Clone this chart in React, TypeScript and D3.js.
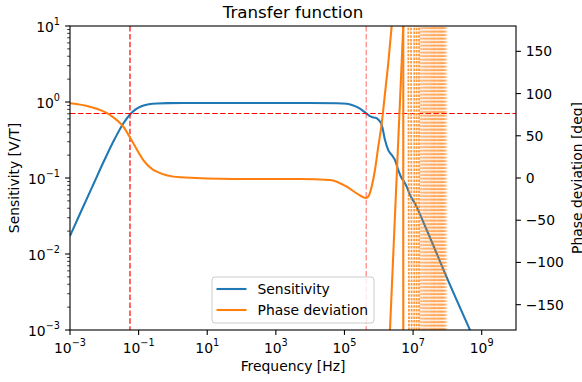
import { useRef, useEffect } from 'react';
import * as d3 from 'd3';

const sensFreq = [
    1e-3, 2e-3, 5e-3, 1e-2, 2e-2, 3.5e-2, 5.6e-2, 8e-2, 0.12, 0.2, 0.35, 0.7, 2, 1e2, 1e4, 6e4, 1.2e5,
    2.2e5, 3.2e5, 4.3e5, 5.5e5, 6.5e5, 8e5, 9.6e5, 1.22e6, 1.52e6, 1.89e6, 2.38e6, 2.96e6, 3.7e6,
    4.66e6, 5.6e6, 6.5e6, 8.1e6, 1.14e7, 2.38e7, 1e8, 4.55e8, 1e9,
];
const sensVal = [
    0.0173, 0.0346, 0.086, 0.171, 0.326, 0.514, 0.686, 0.795, 0.879, 0.934, 0.958, 0.967, 0.97, 0.97,
    0.97, 0.965, 0.95, 0.87, 0.79, 0.71, 0.65, 0.63, 0.62, 0.59, 0.5, 0.316, 0.233, 0.201, 0.173,
    0.127, 0.099, 0.088, 0.077, 0.06, 0.046, 0.0218, 0.0047, 0.001, 0.00045,
];

// Phase deviation [deg], up to the first wrap
const phaseFreq = [
    1e-3, 3.8e-3, 1.47e-2, 3.57e-2, 7e-2, 0.137, 0.336, 1.6, 57, 5e3, 3.8e4, 1.16e5, 2.27e5, 4.3e5,
    4.94e5, 6.2e5, 7.74e5, 9.67e5, 1.22e6, 1.52e6, 1.89e6, 2.38e6,
];
const phaseDeg = [
    88.5, 84.4, 74.6, 60.8, 41.1, 21.3, 7.5, 0.8, -1.2, -1.2, -2.4, -10.3, -18.1, -23.5, -22.1,
    -10.3, 9.5, 37.1, 64.8, 100.3, 135.8, 180,
];

// Wrapped phase segments: frequency where each one leaves -180 and reaches +180
const wrapLo = [2.12e6, 5.18e6, 7.59e6, 9.1e6, 1.08e7, 1.27e7, 1.49e7];
const wrapHi = [5.18e6, 5.18e6, 7.24e6, 8.69e6, 1.08e7, 1.27e7, 1.49e7];
// Dense wraps above ~1.6e7 Hz
const denseWrapFreq = [
    1.62e7, 1.75e7, 1.9e7, 2.05e7, 2.2e7, 2.35e7, 2.5e7, 2.7e7, 2.9e7, 3.1e7, 3.3e7, 3.5e7, 3.7e7,
    3.9e7, 4.1e7, 4.3e7, 4.5e7, 4.8e7, 5.1e7, 5.4e7, 5.7e7, 6.0e7, 6.3e7, 6.6e7, 6.9e7, 7.2e7, 7.5e7,
    7.8e7, 8.1e7, 8.4e7, 8.7e7, 9.0e7, 9.3e7, 9.6e7,
];

// -3 dB markers
const cutoffFreqs = [0.056, 4.3e5];
const cutoffLevel = 0.707;

const xTickExp = [-3, -1, 1, 3, 5, 7, 9];
const yTickExp = [-3, -2, -1, 0, 1];
const phaseTicks = [-150, -100, -50, 0, 50, 100, 150];
const legendLabels = ['Sensitivity', 'Phase deviation'];

const BLUE = '#1f77b4';
const ORANGE = '#ff7f0e';
const RED = '#ff0000';
const FONT = 'DejaVu Sans, sans-serif';

function TransferFunction() {
    const svgRef = useRef<SVGSVGElement | null>(null);

    const width = 582;
    const height = 382;
    const left = 70;
    const right = 516;
    const top = 26;
    const bottom = 330;

    useEffect(() => {
        const svg = d3.select(svgRef.current);
        svg.selectAll('*').remove();

        const x = d3.scaleLog().domain([1e-3, 1e10]).range([left, right]);
        const yL = d3.scaleLog().domain([1e-3, 1e1]).range([bottom, top]);
        const yR = d3.scaleLinear().domain([-180, 180]).range([bottom, top]);

        svg.append('rect').attr('width', width).attr('height', height).attr('fill', 'white');

        const defs = svg.append('defs');
        defs.append('clipPath')
            .attr('id', 'plot-clip')
            .append('rect')
            .attr('x', left)
            .attr('y', top)
            .attr('width', right - left)
            .attr('height', bottom - top);
        // soft fill behind the dense wraps, fading out on the right
        const grad = defs.append('linearGradient').attr('id', 'dense-fade');
        grad.append('stop').attr('offset', '0%').attr('stop-color', ORANGE).attr('stop-opacity', 0.12);
        grad.append('stop').attr('offset', '70%').attr('stop-color', ORANGE).attr('stop-opacity', 0.16);
        grad.append('stop').attr('offset', '100%').attr('stop-color', ORANGE).attr('stop-opacity', 0.02);

        const plot = svg.append('g').attr('clip-path', 'url(#plot-clip)');

        // Sensitivity
        const sensLine = d3
            .line<number>()
            .x((d, i) => x(sensFreq[i]))
            .y((d) => yL(d))
            .curve(d3.curveMonotoneX);
        plot.append('path')
            .attr('d', sensLine(sensVal))
            .attr('fill', 'none')
            .attr('stroke', BLUE)
            .attr('stroke-width', 2.08);

        // Cutoff markers
        const hy = Math.round(yL(cutoffLevel)) + 0.5;
        plot.append('path')
            .attr('d', `M${left},${hy}H${right}`)
            .style('stroke', RED)
            .style('stroke-width', 1.2)
            .style('stroke-dasharray', '5.5,2.4')
            .style('fill', 'none');
        plot.append('g')
            .selectAll('path')
            .data(cutoffFreqs)
            .join('path')
            .attr('d', (d) => `M${x(d)},${top}V${bottom}`)
            .style('stroke', RED)
            .style('stroke-opacity', (d, i) => (i === 0 ? 1 : 0.5))
            .style('stroke-width', 1.2)
            .style('stroke-dasharray', '5.5,2.4')
            .style('fill', 'none');

        // Phase deviation
        const phaseLine = d3
            .line<number>()
            .x((d, i) => x(phaseFreq[i]))
            .y((d) => yR(d))
            .curve(d3.curveMonotoneX);
        plot.append('path')
            .attr('d', phaseLine(phaseDeg))
            .attr('fill', 'none')
            .attr('stroke', ORANGE)
            .attr('stroke-width', 2.08);

        // dense wraps first so the clear ones sit on top
        const n = denseWrapFreq.length;
        const x0 = x(denseWrapFreq[0]);
        const x1 = x(denseWrapFreq[n - 1]);
        plot.append('rect')
            .attr('x', x0)
            .attr('y', yR(180))
            .attr('width', x1 - x0)
            .attr('height', yR(-180) - yR(180))
            .attr('fill', 'url(#dense-fade)');
        plot.append('g')
            .selectAll('line')
            .data(denseWrapFreq)
            .join('line')
            .attr('x1', (d) => x(d))
            .attr('x2', (d) => x(d))
            .attr('y1', yR(-180))
            .attr('y2', yR(180))
            .attr('stroke', ORANGE)
            .attr('stroke-width', 1.6)
            .attr('stroke-opacity', (d, i) => (i < n - 8 ? 0.38 : 0.38 - (0.28 * (i - n + 8)) / 7))
            .attr('stroke-dasharray', (d, i) => (i % 2 ? '2,1.5' : '1.5,2'));

        plot.append('g')
            .selectAll('line')
            .data(wrapLo)
            .join('line')
            .attr('x1', (d) => x(d))
            .attr('x2', (d, i) => x(wrapHi[i]))
            .attr('y1', yR(-180))
            .attr('y2', yR(180))
            .attr('stroke', ORANGE)
            .attr('stroke-width', (d, i) => (i < 2 ? 2.08 : 1.8))
            .attr('stroke-opacity', (d, i) => (i < 2 ? 1 : 0.8))
            .attr('stroke-dasharray', (d, i) => (i < 2 ? null : '2.5,1.2'));

        // Frame
        svg.append('rect')
            .attr('x', left)
            .attr('y', top)
            .attr('width', right - left)
            .attr('height', bottom - top)
            .attr('fill', 'none')
            .attr('stroke', 'black')
            .attr('stroke-width', 1.1);

        // X axis ticks
        const xt = svg.append('g').selectAll('g').data(xTickExp).join('g');
        xt.append('line')
            .attr('x1', (d) => x(10 ** d))
            .attr('x2', (d) => x(10 ** d))
            .attr('y1', bottom)
            .attr('y2', bottom + 4.9)
            .attr('stroke', 'black')
            .attr('stroke-width', 1.1);
        const xl = xt
            .append('text')
            .attr('x', (d) => x(10 ** d))
            .attr('y', 353)
            .attr('text-anchor', 'middle')
            .style('font-family', FONT)
            .style('font-size', '13.9px');
        xl.append('tspan').text('10');
        xl.append('tspan')
            .attr('dy', -6.6)
            .style('font-size', '9.7px')
            .text((d) => String(d).replace('-', '\u2212'));

        // Left y axis ticks (major + minor)
        const minor: number[] = [];
        yTickExp.slice(0, -1).forEach((e) => {
            for (let m = 2; m <= 9; m++) minor.push(m * 10 ** e);
        });
        svg.append('g')
            .selectAll('line')
            .data(minor)
            .join('line')
            .attr('x1', left - 2.8)
            .attr('x2', left)
            .attr('y1', (d) => yL(d))
            .attr('y2', (d) => yL(d))
            .attr('stroke', 'black')
            .attr('stroke-width', 0.8);
        const yt = svg.append('g').selectAll('g').data(yTickExp).join('g');
        yt.append('line')
            .attr('x1', left - 4.9)
            .attr('x2', left)
            .attr('y1', (d) => yL(10 ** d))
            .attr('y2', (d) => yL(10 ** d))
            .attr('stroke', 'black')
            .attr('stroke-width', 1.1);
        const yl = yt
            .append('text')
            .attr('x', 60)
            .attr('y', (d) => yL(10 ** d) + 6)
            .attr('text-anchor', 'end')
            .style('font-family', FONT)
            .style('font-size', '13.9px');
        yl.append('tspan').text('10');
        yl.append('tspan')
            .attr('dy', -6.6)
            .style('font-size', '9.7px')
            .text((d) => String(d).replace('-', '\u2212'));

        // Right y axis ticks
        const rt = svg.append('g').selectAll('g').data(phaseTicks).join('g');
        rt.append('line')
            .attr('x1', right)
            .attr('x2', right + 4.9)
            .attr('y1', (d) => yR(d))
            .attr('y2', (d) => yR(d))
            .attr('stroke', 'black')
            .attr('stroke-width', 1.1);
        rt.append('text')
            .attr('x', right + 9.7)
            .attr('y', (d) => yR(d) + 5)
            .style('font-family', FONT)
            .style('font-size', '13.9px')
            .text((d) => String(d).replace('-', '\u2212'));

        // Labels
        svg.append('text')
            .attr('x', (left + right) / 2)
            .attr('y', 17.5)
            .attr('text-anchor', 'middle')
            .style('font-family', FONT)
            .style('font-size', '16.7px')
            .text('Transfer function');
        svg.append('text')
            .attr('x', (left + right) / 2)
            .attr('y', 371)
            .attr('text-anchor', 'middle')
            .style('font-family', FONT)
            .style('font-size', '13.9px')
            .text('Frequency [Hz]');
        svg.append('text')
            .attr('transform', `translate(18.5, ${(top + bottom) / 2}) rotate(-90)`)
            .attr('text-anchor', 'middle')
            .style('font-family', FONT)
            .style('font-size', '13.9px')
            .text('Sensitivity [V/T]');
        svg.append('text')
            .attr('transform', `translate(581.5, ${(top + bottom) / 2}) rotate(-90)`)
            .attr('text-anchor', 'middle')
            .style('font-family', FONT)
            .style('font-size', '13.9px')
            .text('Phase deviation [deg]');

        // Legend
        const legend = svg.append('g');
        legend.append('rect')
            .attr('x', 212)
            .attr('y', 277)
            .attr('width', 162)
            .attr('height', 46)
            .attr('rx', 3)
            .attr('fill', 'white')
            .attr('fill-opacity', 0.8)
            .attr('stroke', '#cccccc')
            .attr('stroke-width', 1);
        const entries = legend.selectAll('g').data(legendLabels).join('g');
        entries.append('line')
            .attr('x1', 216.5)
            .attr('x2', 246.5)
            .attr('y1', (d, i) => 289 + i * 21)
            .attr('y2', (d, i) => 289 + i * 21)
            .attr('stroke', (d, i) => (i === 0 ? BLUE : ORANGE))
            .attr('stroke-width', 2.08);
        entries.append('text')
            .attr('x', 257.5)
            .attr('y', (d, i) => 294 + i * 21)
            .style('font-family', FONT)
            .style('font-size', '13.9px')
            .text((d) => d);
    }, []);

    return (
        <svg
            ref={svgRef}
            width={width}
            height={height}
            style={{ position: 'absolute', left: 0, top: 0 }}
        ></svg>
    );
}

export default function App() {
    return <TransferFunction />;
}
